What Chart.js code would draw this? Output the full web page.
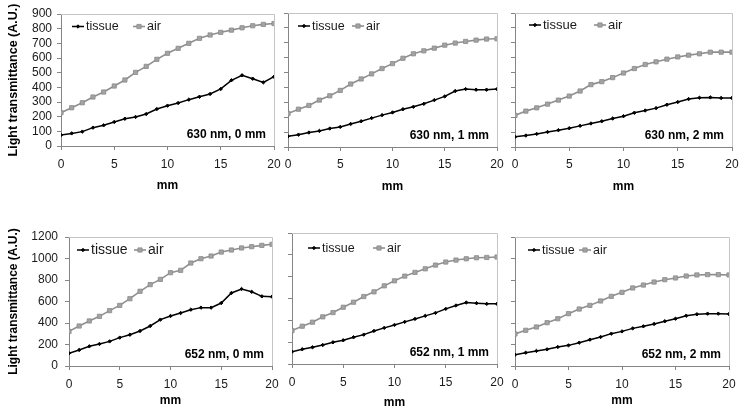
<!DOCTYPE html>
<html>
<head>
<meta charset="utf-8">
<script src="https://cdn.jsdelivr.net/npm/chart.js@4.4.1/dist/chart.umd.min.js"></script>
<style>
  html, body { margin: 0; padding: 0; background: #ffffff; }
  #root { position: relative; width: 745px; height: 411px; overflow: hidden; background: #ffffff; }
  canvas { position: absolute; }
</style>
</head>
<body>
<div id="root"></div>
<script>
// ---- data ----
const mmPositions = [0,1,2,3,4,5,6,7,8,9,10,11,12,13,14,15,16,17,18,19,20];
const xTickValues = [0,5,10,15,20];
const yTicksTop = [0,100,200,300,400,500,600,700,800,900];
const yTicksBottom = [0,200,400,600,800,1000,1200];
const seriesNames = ['tissue', 'air'];
const panelLabels = ['630 nm, 0 mm', '630 nm, 1 mm', '630 nm, 2 mm', '652 nm, 0 mm', '652 nm, 1 mm', '652 nm, 2 mm'];
const yTitle = 'Light transmittance (A.U.)';
const xTitle = 'mm';

const tissue630_0 = [75,86,98,125,141,164,186,198,218,252,275,293,316,336,355,389,448,482,459,434,472];
const air630_0    = [227,261,295,334,368,409,450,502,543,591,632,666,700,734,757,775,790,806,820,829,835];
const tissue630_1 = [72,83,97,108,124,135,155,173,194,214,232,254,270,290,315,340,376,389,385,385,389];
const air630_1    = [225,254,279,315,344,380,423,457,491,527,560,596,626,646,664,684,698,709,718,725,727];
const tissue630_2 = [68,77,88,101,113,126,142,158,173,191,207,230,245,261,284,302,322,331,333,329,329];
const air630_2    = [212,241,263,288,315,342,376,419,439,466,497,527,554,572,590,605,617,626,637,637,637];
const tissue652_0 = [118,149,183,205,229,264,291,326,372,431,465,493,524,543,543,586,679,716,690,648,645];
const air652_0    = [322,372,419,462,515,564,626,695,757,806,868,890,958,998,1023,1060,1079,1098,1110,1122,1132];
const tissue652_1 = [113,135,153,174,199,217,245,269,303,331,358,386,413,441,468,505,536,563,557,551,551];
const air652_1    = [306,346,383,432,471,520,566,618,661,716,762,805,839,872,906,934,952,964,973,976,980];
const tissue652_2 = [105,124,140,155,177,192,217,245,270,301,322,350,369,391,416,440,468,481,487,487,484];
const air652_2    = [298,332,363,403,440,487,530,564,605,648,685,726,753,781,803,819,837,847,850,850,847];

// ---- styling ----
const FONT = "'Liberation Sans', Arial, sans-serif";
const TISSUE_COLOR = '#000000';
const AIR_LINE = '#8f8f8f';
const AIR_POINT = '#a3a3a3';
const AXIS_COLOR = '#858585';
const FRAME_COLOR = '#c4c4c4';
const TEXT_COLOR = '#1a1a1a';

// panel layout: canvas box (cx, cy, w, h) and plot area (L, R, T, B)
const panels = [
  { tissue: tissue630_0, air: air630_0, label: panelLabels[0], yTicks: yTicksTop, showY: true,
    cx: 0, cy: 0, w: 284, h: 197, L: 61, R: 274, T: 14, B: 146, yPad: 5, xPad: 7.5, titlePadB: 4, yTitleSize: 12.5,
    leg: { line: 11, air: 72, dy: 12.5, size: 12.5 } },
  { tissue: tissue630_1, air: air630_1, label: panelLabels[1], yTicks: yTicksTop, showY: false,
    cx: 276, cy: 0, w: 229, h: 197, L: 288, R: 497, T: 13, B: 147, yPad: 5, xPad: 6, titlePadB: 3, yTitleSize: 12.5,
    leg: { line: 10, air: 64, dy: 13, size: 12.5 } },
  { tissue: tissue630_2, air: air630_2, label: panelLabels[2], yTicks: yTicksTop, showY: false,
    cx: 503, cy: 0, w: 239, h: 197, L: 515, R: 732, T: 13, B: 147, yPad: 5, xPad: 6, titlePadB: 3, yTitleSize: 12.5,
    leg: { line: 14, air: 79, dy: 12, size: 13 } },
  { tissue: tissue652_0, air: air652_0, label: panelLabels[3], yTicks: yTicksBottom, showY: true,
    cx: 0, cy: 200, w: 282, h: 211, L: 69, R: 272, T: 237, B: 366, yPad: 7, xPad: 7, titlePadB: 3, yTitleSize: 12,
    leg: { line: 8, air: 65, dy: 13, size: 14 } },
  { tissue: tissue652_1, air: air652_1, label: panelLabels[4], yTicks: yTicksBottom, showY: false,
    cx: 280, cy: 200, w: 225, h: 211, L: 292, R: 497, T: 233, B: 364, yPad: 7, xPad: 7, titlePadB: 1, yTitleSize: 12,
    leg: { line: 16, air: 81, dy: 15, size: 12.5 } },
  { tissue: tissue652_2, air: air652_2, label: panelLabels[5], yTicks: yTicksBottom, showY: false,
    cx: 503, cy: 200, w: 236, h: 211, L: 515, R: 729, T: 237, B: 366, yPad: 7, xPad: 7, titlePadB: 3, yTitleSize: 12,
    leg: { line: 13, air: 64, dy: 13, size: 12.5 } }
];

// frame, legend and panel label drawn relative to the chart area
const decorPlugin = {
  id: 'decor',
  beforeDatasetsDraw(chart) {
    const { ctx, chartArea: a } = chart;
    ctx.save();
    ctx.strokeStyle = FRAME_COLOR;
    ctx.lineWidth = 1;
    ctx.beginPath();
    ctx.moveTo(a.left, a.top + 0.5);
    ctx.lineTo(a.right + 0.5, a.top + 0.5);
    ctx.lineTo(a.right + 0.5, a.bottom);
    ctx.stroke();
    ctx.restore();
  },
  afterDatasetsDraw(chart, args, opts) {
    const { ctx, chartArea: a } = chart;
    ctx.save();
    const cy = a.top + opts.leg.dy;
    const items = [
      { x: a.left + opts.leg.line, ds: chart.data.datasets[0] },
      { x: a.left + opts.leg.air, ds: chart.data.datasets[1] }
    ];
    items.forEach(it => {
      const ds = it.ds;
      ctx.strokeStyle = ds.borderColor;
      ctx.lineWidth = ds.borderWidth;
      ctx.beginPath();
      ctx.moveTo(it.x, cy);
      ctx.lineTo(it.x + 12, cy);
      ctx.stroke();
      ctx.fillStyle = ds.pointBackgroundColor;
      ctx.strokeStyle = ds.pointBorderColor;
      ctx.lineWidth = ds.pointBorderWidth;
      Chart.helpers.drawPoint(ctx, {
        pointStyle: ds.pointStyle, radius: ds.pointRadius, borderWidth: ds.pointBorderWidth, rotation: 0
      }, it.x + 6, cy);
      ctx.font = opts.leg.size + 'px ' + FONT;
      ctx.textBaseline = 'middle';
      ctx.textAlign = 'left';
      ctx.fillStyle = TEXT_COLOR;
      ctx.fillText(ds.label, it.x + 14, cy + 0.5);
    });
    ctx.font = 'bold 12px ' + FONT;
    ctx.textAlign = 'right';
    ctx.textBaseline = 'middle';
    ctx.fillStyle = '#000000';
    ctx.fillText(opts.label, a.right - 8, a.bottom - 11);
    ctx.restore();
  }
};

const root = document.getElementById('root');

panels.forEach(p => {
  const canvas = document.createElement('canvas');
  canvas.width = p.w;
  canvas.height = p.h;
  canvas.style.left = p.cx + 'px';
  canvas.style.top = p.cy + 'px';
  canvas.style.width = p.w + 'px';
  canvas.style.height = p.h + 'px';
  root.appendChild(canvas);

  const yMin = p.yTicks[0];
  const yMax = p.yTicks[p.yTicks.length - 1];

  new Chart(canvas, {
    type: 'line',
    data: {
      datasets: [
        {
          label: seriesNames[0],
          data: p.tissue.map((v, i) => ({ x: mmPositions[i], y: v })),
          borderColor: TISSUE_COLOR,
          backgroundColor: TISSUE_COLOR,
          borderWidth: 1.5,
          pointStyle: 'rectRot',
          pointRadius: 1.7,
          pointBackgroundColor: TISSUE_COLOR,
          pointBorderColor: TISSUE_COLOR,
          pointBorderWidth: 1,
          tension: 0,
          fill: false
        },
        {
          label: seriesNames[1],
          data: p.air.map((v, i) => ({ x: mmPositions[i], y: v })),
          borderColor: AIR_LINE,
          backgroundColor: AIR_POINT,
          borderWidth: 1.6,
          pointStyle: 'rect',
          pointRadius: 3,
          pointBackgroundColor: AIR_POINT,
          pointBorderColor: '#8a8a8a',
          pointBorderWidth: 0.8,
          tension: 0,
          fill: false
        }
      ]
    },
    options: {
      responsive: false,
      animation: false,
      devicePixelRatio: 1,
      layout: { padding: { left: 0, top: p.T - p.cy, right: p.cx + p.w - p.R, bottom: 0 } },
      plugins: {
        legend: { display: false },
        tooltip: { enabled: false },
        decor: { leg: p.leg, label: p.label }
      },
      scales: {
        x: {
          type: 'linear',
          min: xTickValues[0],
          max: xTickValues[xTickValues.length - 1],
          afterBuildTicks: (s) => { s.ticks = xTickValues.map(v => ({ value: v })); },
          ticks: { font: { family: FONT, size: 12 }, color: TEXT_COLOR, padding: p.xPad, maxRotation: 0, autoSkip: false },
          grid: { drawOnChartArea: false, drawTicks: true, tickLength: 4, color: AXIS_COLOR, lineWidth: 1 },
          border: { display: true, color: AXIS_COLOR, width: 1 },
          title: { display: true, text: xTitle, color: '#000000', font: { family: FONT, size: 12, weight: 'bold' }, padding: { top: 0, bottom: p.titlePadB } },
          afterFit: (s) => { s.height = p.cy + p.h - p.B; s.paddingLeft = 0; s.paddingRight = 0; }
        },
        y: {
          type: 'linear',
          min: yMin,
          max: yMax,
          afterBuildTicks: (s) => { s.ticks = p.yTicks.map(v => ({ value: v })); },
          ticks: {
            font: { family: FONT, size: 12 }, color: TEXT_COLOR, padding: p.yPad, autoSkip: false,
            callback: (v) => p.showY ? String(v) : ''
          },
          grid: { drawOnChartArea: false, drawTicks: true, tickLength: 4, color: AXIS_COLOR, lineWidth: 1 },
          border: { display: true, color: AXIS_COLOR, width: 1 },
          title: { display: p.showY, text: yTitle, color: '#000000', font: { family: FONT, size: p.yTitleSize, weight: 'bold' }, padding: { top: 6, bottom: 0 } },
          afterFit: (s) => { s.width = p.L - p.cx; s.paddingTop = 0; s.paddingBottom = 0; }
        }
      }
    },
    plugins: [decorPlugin]
  });
});
</script>
</body>
</html>
